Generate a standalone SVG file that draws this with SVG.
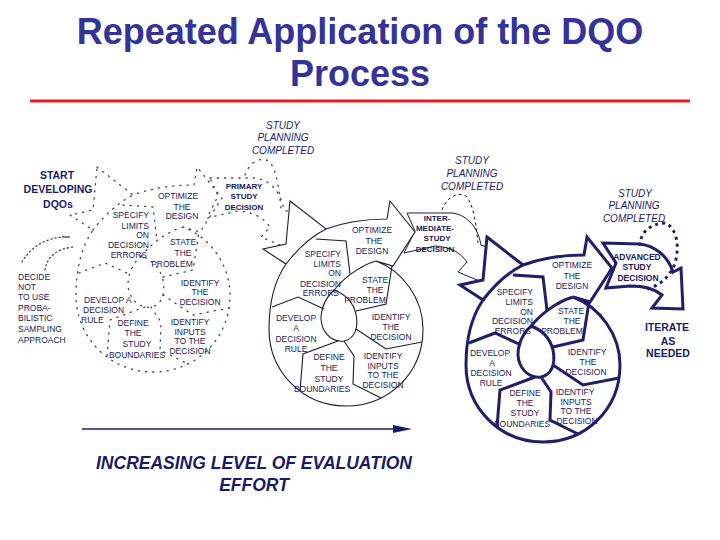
<svg xmlns="http://www.w3.org/2000/svg" width="720" height="540" viewBox="0 0 720 540">
<style>
.title{font-family:"Liberation Sans",Arial,sans-serif;font-weight:bold;font-size:36px;fill:#333399;text-anchor:middle}
.t{font-family:"Liberation Sans",Arial,sans-serif;font-size:8.5px;fill:#1a1a5a;text-anchor:middle}
.te{font-family:"Liberation Sans",Arial,sans-serif;font-size:8.5px;fill:#1a1a5a;text-anchor:end}
.ts{font-family:"Liberation Sans",Arial,sans-serif;font-size:8.5px;fill:#1a1a5a;text-anchor:start}
.b{font-family:"Liberation Sans",Arial,sans-serif;font-weight:bold;font-size:8px;fill:#1a1a5a;text-anchor:middle}
.bl{font-family:"Liberation Sans",Arial,sans-serif;font-weight:bold;font-size:10.5px;fill:#1a1a6a;text-anchor:middle}
.it{font-family:"Liberation Sans",Arial,sans-serif;font-style:italic;font-size:10px;fill:#1a1a6a;text-anchor:middle}
.axis{font-family:"Liberation Sans",Arial,sans-serif;font-style:italic;font-weight:bold;font-size:17.5px;fill:#1a1a6a;text-anchor:middle}
.ghost{fill:none;stroke:#444;stroke-width:1.3;stroke-dasharray:1.2 6;stroke-linecap:round}
</style>
<defs>
<g id="spiral">
<path d="M487,237 L523,265 C542,258 563,255 584,255 L587,237 L612,268 L590,302 L573,297 C600,307 620,335 620,365 C620,410 585,442 543,442 C500,442 466,408 466,365 C466,338 472,316 483,300 L460,285 L483,280 Z"/>
<path d="M483,300 C493,287 507,273 523,265" fill="none"/>
<path d="M573,297 C556,302 538,316 530,328" fill="none"/>
<path d="M531,326 C520,336 515,352 520,364 C525,375 534,378 541,377 C551,375 556,365 553,350 C550,338 542,330 531,326 Z" fill="none"/>
<path d="M513,275 L543,277 L547,310" fill="none"/>
<path d="M469,343 L495,333 L521,345" fill="none"/>
<path d="M553,347 L583,340 L589,302" fill="none"/>
<path d="M553,365 L583,385 L619,378" fill="none"/>
<path d="M541,377 L551,392 L550,420 L578,434" fill="none"/>
<path d="M535,377 L500,390 L497,427" fill="none"/>
</g>
<path id="decarrow" d="M407,213 L452,213 C468,215 478,228 481,245 L490,248 L484,283 L458,272 L467,262 C460,252 450,247 435,246 L404,253 L415,231 Z"/>
</defs>

<g id="title">
<text class="title" x="360" y="44">Repeated Application of the DQO</text>
<text class="title" x="360" y="86">Process</text>
<line x1="30" y1="101" x2="690" y2="101" stroke="#e02020" stroke-width="3"/>
</g>

<g id="connectors">
<use href="#spiral" transform="translate(-390,-70)" class="ghost"/>
<use href="#decarrow" transform="translate(-197,-35)" class="ghost"/>
<path class="ghost" d="M245,175 C250,161 261,157 269,161 C277,170 279,190 281,208"/>
<path d="M22,262 Q35,240 62,237" fill="none" stroke="#444" stroke-width="1.3" stroke-dasharray="1.2 3" stroke-linecap="round"/>
<line x1="62" y1="237" x2="70" y2="237" stroke="#333" stroke-width="1.2"/>
<path d="M45,270 Q48,250 73,247" fill="none" stroke="#444" stroke-width="1.3" stroke-dasharray="1.2 3" stroke-linecap="round"/>
<use href="#decarrow" fill="#fff" stroke="#1a1a4a" stroke-width="1"/>
<path d="M442,210 C447,196 458,192 466,196 C474,205 476,225 478,243" fill="none" stroke="#1a1a4a" stroke-width="1" stroke-dasharray="3 3"/>
<path d="M603,243 L640,244 C655,246 668,256 673,272 L681,268 L683,309 L652,308 L662,295 C655,289 645,286 630,286 L606,288 L616,263 Z" fill="#fff" stroke="#1f1f6b" stroke-width="3" stroke-linejoin="miter"/>
<path d="M640,246 C640,232 650,224 665,223 C678,228 680,250 674,266 C668,279 658,286 645,290" fill="none" stroke="#1f1f6b" stroke-width="3" stroke-dasharray="3 4"/>
<line x1="82" y1="429" x2="396" y2="429" stroke="#1a1a6a" stroke-width="1.3"/>
<polygon points="393,425 412,429 393,433" fill="#1a1a6a"/>
</g>

<g id="cycle-primary">
<use href="#spiral" transform="translate(-197,-36)" fill="#fff" stroke="#1a1a40" stroke-width="1.1"/>
</g>
<g id="cycle-intermediate">
<use href="#spiral" fill="#fff" stroke="#1f1f6b" stroke-width="3"/>
</g>

<g id="labels-left">
<text class="bl" x="57" y="179">START</text>
<text class="bl" x="58" y="193">DEVELOPING</text>
<text class="bl" x="58" y="208">DQOs</text>
<text class="ts" x="18" y="280">DECIDE</text>
<text class="ts" x="18" y="290">NOT</text>
<text class="ts" x="18" y="300">TO USE</text>
<text class="ts" x="18" y="311">PROBA-</text>
<text class="ts" x="18" y="321">BILISTIC</text>
<text class="ts" x="18" y="332">SAMPLING</text>
<text class="ts" x="18" y="343">APPROACH</text>
<text class="t" x="178" y="199">OPTIMIZE</text>
<text class="t" x="182" y="210">THE</text>
<text class="t" x="182" y="219">DESIGN</text>
<text class="te" x="149" y="218">SPECIFY</text>
<text class="te" x="149" y="229">LIMITS</text>
<text class="te" x="149" y="238">ON</text>
<text class="te" x="149" y="248">DECISION</text>
<text class="te" x="147" y="258">ERRORS</text>
<text class="t" x="183" y="245">STATE</text>
<text class="t" x="183" y="256">THE</text>
<text class="t" x="172" y="267">PROBLEM</text>
<text class="t" x="200" y="286">IDENTIFY</text>
<text class="t" x="200" y="295">THE</text>
<text class="t" x="200" y="305">DECISION</text>
<text class="ts" x="84" y="303">DEVELOP A</text>
<text class="ts" x="83" y="313">DECISION</text>
<text class="ts" x="81" y="323">RULE</text>
<text class="t" x="133" y="326">DEFINE</text>
<text class="t" x="133" y="336">THE</text>
<text class="t" x="137" y="347">STUDY</text>
<text class="t" x="137" y="358">BOUNDARIES</text>
<text class="t" x="190" y="325">IDENTIFY</text>
<text class="t" x="190" y="335">INPUTS</text>
<text class="t" x="190" y="344">TO THE</text>
<text class="t" x="190" y="354">DECISION</text>
<text class="b" x="244" y="189">PRIMARY</text>
<text class="b" x="244" y="199">STUDY</text>
<text class="b" x="244" y="210">DECISION</text>
</g>

<g id="labels-middle">
<text class="it" x="283" y="129">STUDY</text>
<text class="it" x="283" y="141">PLANNING</text>
<text class="it" x="283" y="154">COMPLETED</text>
<text class="t" x="372" y="233">OPTIMIZE</text>
<text class="t" x="374" y="244">THE</text>
<text class="t" x="372" y="254">DESIGN</text>
<text class="te" x="341" y="257">SPECIFY</text>
<text class="te" x="341" y="267">LIMITS</text>
<text class="te" x="341" y="276">ON</text>
<text class="te" x="341" y="287">DECISION</text>
<text class="te" x="339" y="296">ERRORS</text>
<text class="t" x="375" y="283">STATE</text>
<text class="t" x="375" y="293">THE</text>
<text class="t" x="365" y="303">PROBLEM</text>
<text class="t" x="391" y="320">IDENTIFY</text>
<text class="t" x="391" y="330">THE</text>
<text class="t" x="391" y="340">DECISION</text>
<text class="t" x="383" y="359">IDENTIFY</text>
<text class="t" x="383" y="369">INPUTS</text>
<text class="t" x="383" y="378">TO THE</text>
<text class="t" x="383" y="388">DECISION</text>
<text class="t" x="296" y="321">DEVELOP</text>
<text class="t" x="296" y="331">A</text>
<text class="t" x="296" y="342">DECISION</text>
<text class="t" x="296" y="352">RULE</text>
<text class="t" x="329" y="360">DEFINE</text>
<text class="t" x="329" y="371">THE</text>
<text class="t" x="329" y="382">STUDY</text>
<text class="t" x="322" y="392">BOUNDARIES</text>
<text class="it" x="472" y="164">STUDY</text>
<text class="it" x="472" y="177">PLANNING</text>
<text class="it" x="472" y="190">COMPLETED</text>
<text class="b" x="437" y="221">INTER-</text>
<text class="b" x="435" y="231">MEDIATE-</text>
<text class="b" x="437" y="241">STUDY</text>
<text class="b" x="435" y="252">DECISION</text>
</g>

<g id="labels-right">
<text class="t" x="572" y="268">OPTIMIZE</text>
<text class="t" x="572" y="279">THE</text>
<text class="t" x="572" y="289">DESIGN</text>
<text class="te" x="533" y="295">SPECIFY</text>
<text class="te" x="533" y="305">LIMITS</text>
<text class="te" x="533" y="315">ON</text>
<text class="te" x="533" y="324">DECISION</text>
<text class="te" x="531" y="334">ERRORS</text>
<text class="t" x="571" y="314">STATE</text>
<text class="t" x="572" y="324">THE</text>
<text class="t" x="562" y="334">PROBLEM</text>
<text class="t" x="587" y="355">IDENTIFY</text>
<text class="t" x="588" y="365">THE</text>
<text class="t" x="586" y="375">DECISION</text>
<text class="t" x="575" y="395">IDENTIFY</text>
<text class="t" x="576" y="405">INPUTS</text>
<text class="t" x="576" y="414">TO THE</text>
<text class="t" x="577" y="424">DECISION</text>
<text class="t" x="490" y="356">DEVELOP</text>
<text class="t" x="492" y="366">A</text>
<text class="t" x="491" y="376">DECISION</text>
<text class="t" x="491" y="386">RULE</text>
<text class="t" x="525" y="396">DEFINE</text>
<text class="t" x="525" y="406">THE</text>
<text class="t" x="525" y="416">STUDY</text>
<text class="t" x="522" y="427">BOUNDARIES</text>
<text class="it" x="635" y="197">STUDY</text>
<text class="it" x="634" y="209">PLANNING</text>
<text class="it" x="634" y="222">COMPLETED</text>
<text class="b" x="637" y="260" style="font-size:8.5px">ADVANCED</text>
<text class="b" x="637" y="270" style="font-size:8.5px">STUDY</text>
<text class="b" x="638" y="281" style="font-size:8.5px">DECISION</text>
<text class="bl" x="667" y="331">ITERATE</text>
<text class="bl" x="668" y="345">AS</text>
<text class="bl" x="668" y="357">NEEDED</text>
</g>

<g id="axis-label">
<text class="axis" x="254" y="469">INCREASING LEVEL OF EVALUATION</text>
<text class="axis" x="254" y="491">EFFORT</text>
</g>
</svg>
